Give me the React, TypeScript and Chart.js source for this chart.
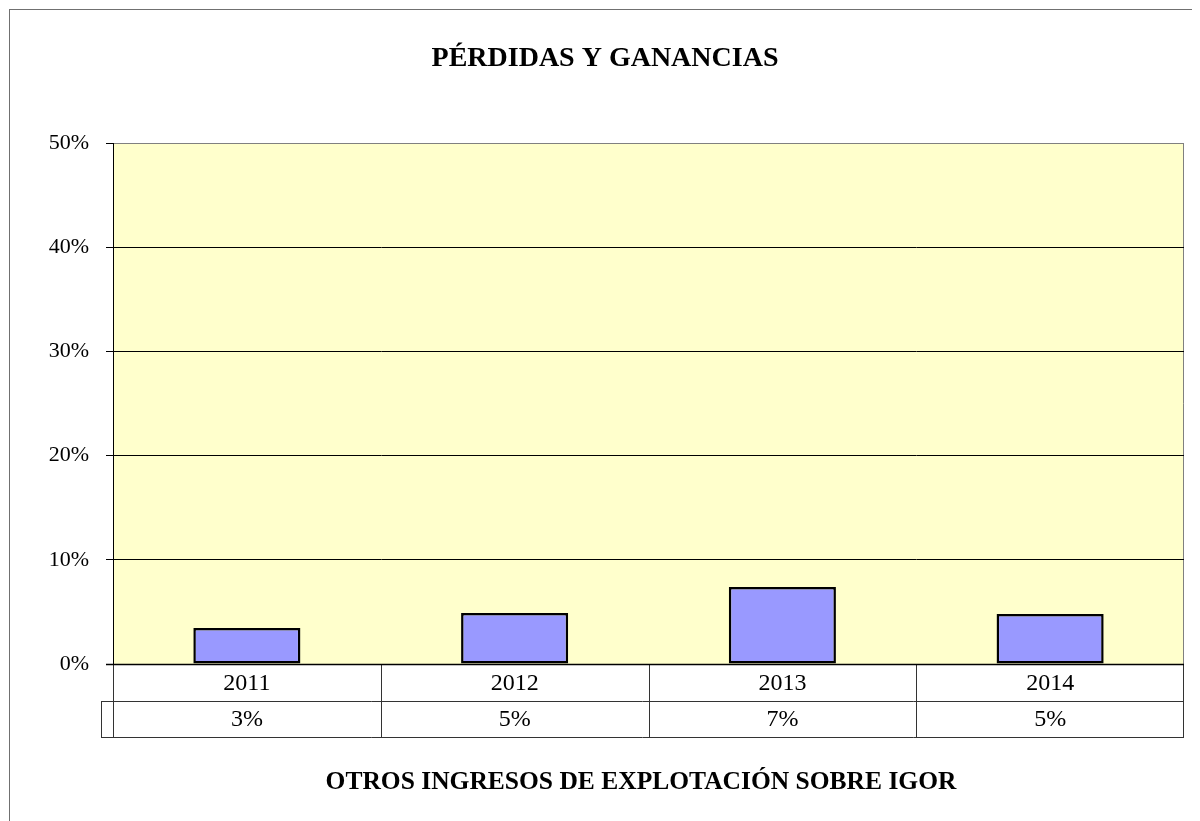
import React, { useEffect, useRef } from "react";
import { Chart, registerables } from "chart.js";

Chart.register(...registerables);

const categories = ["2011", "2012", "2013", "2014"];
const values = [3.45, 4.9, 7.4, 4.8];
const valueLabels = ["3%", "5%", "7%", "5%"];
const yTicks = [0, 10, 20, 30, 40, 50];
const title = "PÉRDIDAS Y GANANCIAS";
const subtitle = "OTROS INGRESOS DE EXPLOTACIÓN SOBRE IGOR";

const FONT = "'Liberation Serif', 'Times New Roman', serif";

const framePlugin = {
  id: "framePlugin",
  beforeDraw(chart: any) {
    const { ctx, chartArea } = chart;
    const { left, top, right, bottom } = chartArea;
    ctx.save();
    ctx.fillStyle = "#ffffff";
    ctx.fillRect(0, 0, chart.width, chart.height);
    ctx.strokeStyle = "#707070";
    ctx.lineWidth = 1;
    ctx.strokeRect(1.5, 1.5, chart.width + 50, chart.height + 50);
    ctx.fillStyle = "#FFFFCC";
    ctx.fillRect(left, top, right - left, bottom - top);
    ctx.strokeStyle = "#808080";
    ctx.beginPath();
    ctx.moveTo(left, top + 0.5);
    ctx.lineTo(right - 0.5, top + 0.5);
    ctx.lineTo(right - 0.5, bottom);
    ctx.stroke();
    ctx.restore();
  },
  afterDraw(chart: any) {
    const { ctx, chartArea, scales } = chart;
    const { left, right, bottom } = chartArea;
    const x = scales.x;
    const n = categories.length;
    const cw = (right - left) / n;
    const rowH = 36.5;
    const r1 = bottom;
    const r2 = bottom + rowH;
    const r3 = bottom + rowH * 2;
    const keyLeft = left - 12;
    ctx.save();
    ctx.strokeStyle = "#333333";
    ctx.lineWidth = 1;
    ctx.beginPath();
    ctx.moveTo(keyLeft, Math.round(r2) + 0.5);
    ctx.lineTo(right, Math.round(r2) + 0.5);
    ctx.moveTo(keyLeft, Math.round(r3) + 0.5);
    ctx.lineTo(right, Math.round(r3) + 0.5);
    ctx.moveTo(keyLeft + 0.5, Math.round(r2));
    ctx.lineTo(keyLeft + 0.5, Math.round(r3) + 1);
    for (let i = 0; i <= n; i++) {
      const px = i === 0 ? left : i === n ? right - 1 : x.getPixelForValue(i) - cw / 2;
      ctx.moveTo(Math.round(px) + 0.5, r1);
      ctx.lineTo(Math.round(px) + 0.5, Math.round(r3) + 1);
    }
    ctx.stroke();
    ctx.strokeStyle = "#000000";
    ctx.lineWidth = 1.5;
    ctx.beginPath();
    ctx.moveTo(left - 7, Math.round(r1) + 0.5);
    ctx.lineTo(right, Math.round(r1) + 0.5);
    ctx.stroke();

    ctx.fillStyle = "#000000";
    ctx.font = `24px ${FONT}`;
    ctx.textAlign = "center";
    ctx.textBaseline = "middle";
    for (let i = 0; i < n; i++) {
      const cx = x.getPixelForValue(i);
      ctx.fillText(categories[i], cx, r1 + rowH / 2 + 1);
      ctx.fillText(valueLabels[i], cx, r2 + rowH / 2 + 1);
    }
    ctx.font = `bold 28px ${FONT}`;
    ctx.fillText(title, chart.width / 2 + 1, 51);
    ctx.font = `bold 25.5px ${FONT}`;
    ctx.fillText(subtitle, chart.width / 2 + 37, 774);
    ctx.restore();
  },
};

export default function App() {
  const ref = useRef<HTMLCanvasElement>(null);
  useEffect(() => {
    if (!ref.current) return;
    const chart = new Chart(ref.current, {
      type: "bar",
      data: {
        labels: categories,
        datasets: [
          {
            data: values,
            backgroundColor: "#9999FF",
            borderColor: "#000000",
            borderWidth: 2.5,
            borderSkipped: false,
            barPercentage: 0.4,
            categoryPercentage: 1.0,
          },
        ],
      },
      options: {
        animation: false,
        responsive: true,
        maintainAspectRatio: false,
        layout: { padding: { top: 135, bottom: 157, right: 16, left: 0 } },
        plugins: { legend: { display: false }, tooltip: { enabled: false }, title: { display: false } },
        scales: {
          x: { display: false },
          y: {
            min: 0,
            max: 50,
            afterFit(scale: any) {
              scale.width = 105;
            },
            afterBuildTicks(scale: any) {
              scale.ticks = yTicks.map((v) => ({ value: v }));
            },
            ticks: {
              stepSize: 10,
              padding: 17,
              color: "#000000",
              font: { family: FONT, size: 22 },
              callback: (v: any) => `${v}%`,
            },
            grid: {
              color: (c: any) => (c.tick && c.tick.value === 50 ? "#808080" : "#000000"),
              lineWidth: 1,
              drawTicks: true,
              tickLength: 7,
              tickColor: "#000000",
            },
            border: { display: true, color: "#000000", width: 1 },
          },
        },
      },
      plugins: [framePlugin],
    });
    return () => chart.destroy();
  }, []);
  return (
    <div style={{ width: 1192, height: 813, position: "relative" }}>
      <canvas ref={ref} />
    </div>
  );
}
